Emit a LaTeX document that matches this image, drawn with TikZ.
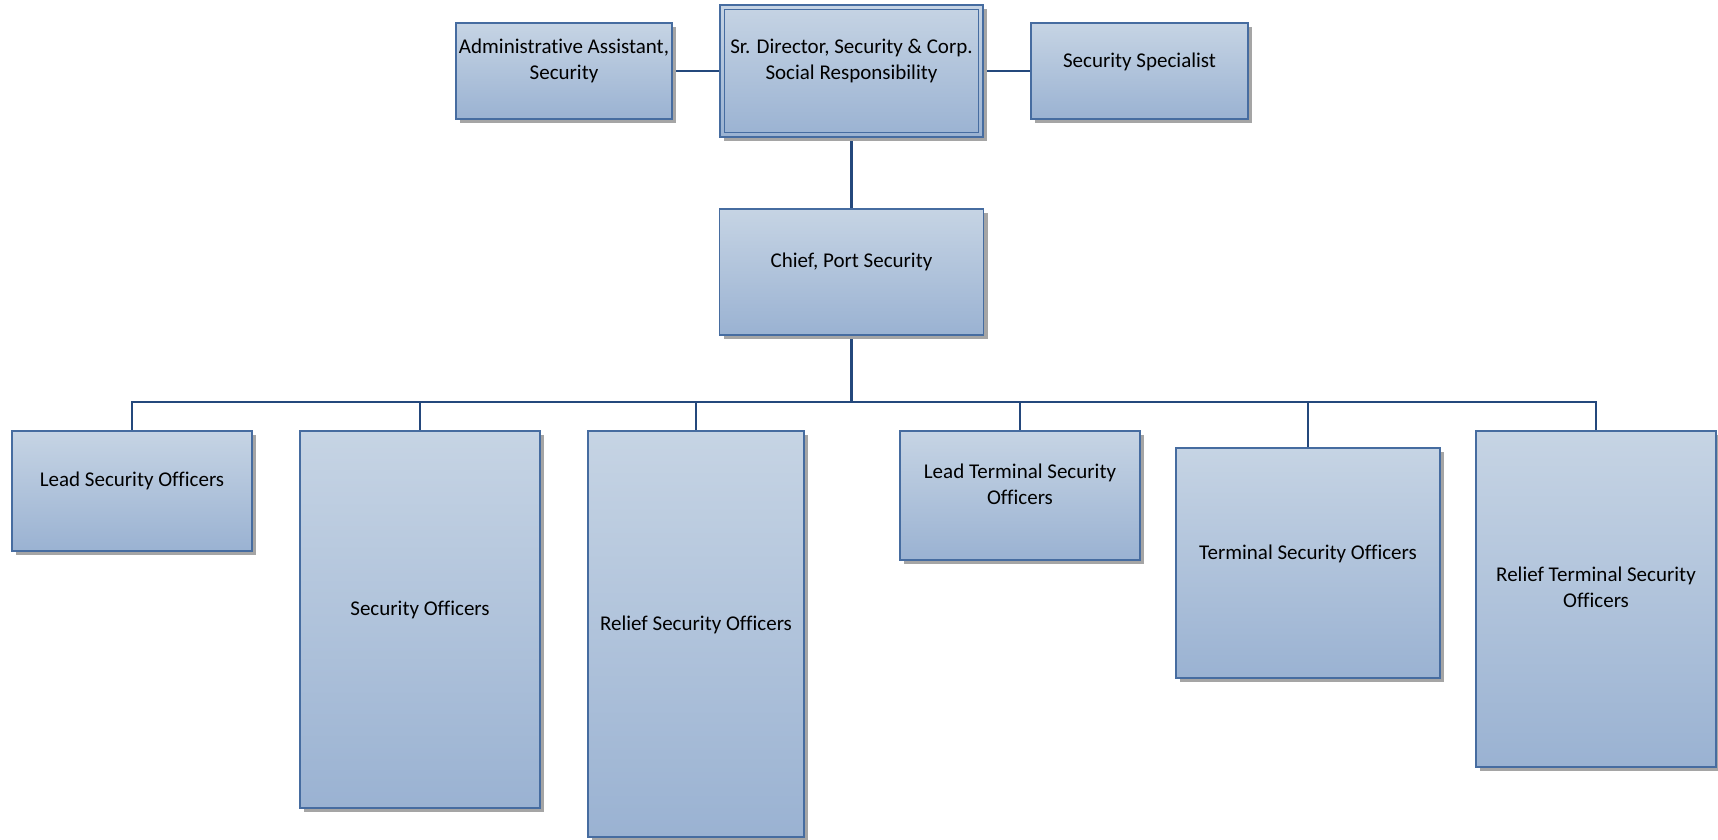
\documentclass[tikz,border=0pt]{standalone}
\usepackage{fontspec}
\setmainfont{Carlito}[Ligatures=CommonOff]
\usetikzlibrary{shadows}
\definecolor{boxtop}{RGB}{198,212,228}
\definecolor{boxbot}{RGB}{154,178,210}
\definecolor{boxline}{RGB}{70,108,160}
\definecolor{conline}{RGB}{36,72,124}
\definecolor{shadowgray}{RGB}{165,165,165}
\pgfdeclarelayer{bg}
\pgfsetlayers{bg,main}
\begin{document}
\begin{tikzpicture}[x=1pt,y=-1pt,
  orgbox/.style={rectangle, draw=boxline, line width=1.6pt, top color=boxtop, bottom color=boxbot, inner sep=0pt,
    drop shadow={shadow xshift=4pt, shadow yshift=-4pt, fill=shadowgray, opacity=1}},
  lbl/.style={font=\fontsize{21}{26}\selectfont, align=center, inner sep=0pt, anchor=north, text=black,
    execute at begin node=\strut},
  conn/.style={draw=conline, line width=2.8pt}]
\useasboundingbox (0,0) rectangle (1718,839);

% boxes
\node[orgbox, minimum width=216pt, minimum height=96pt] (admin) at (564,71) {};
\node[orgbox, minimum width=263pt, minimum height=132pt] (dir) at (851.5,71) {};
\node[orgbox, minimum width=217pt, minimum height=96pt] (spec) at (1139.5,71) {};
\node[orgbox, minimum width=264pt, minimum height=126pt] (chief) at (851.5,272) {};
\node[orgbox, minimum width=240pt, minimum height=120pt] (lso) at (132,491) {};
\node[orgbox, minimum width=240pt, minimum height=377pt] (so) at (420,619.5) {};
\node[orgbox, minimum width=216pt, minimum height=406pt] (rso) at (696,634) {};
\node[orgbox, minimum width=240pt, minimum height=129pt] (ltso) at (1020,495.5) {};
\node[orgbox, minimum width=264pt, minimum height=230pt] (tso) at (1308,563) {};
\node[orgbox, minimum width=240pt, minimum height=336pt] (rtso) at (1596,599) {};

% inner border of the director box
\draw[boxline, line width=1pt] ([shift={(5pt,-5pt)}]dir.north west) rectangle ([shift={(-5pt,5pt)}]dir.south east);

% labels
\node[lbl] (admin-t) at ([yshift=32pt]admin.center) {Administrative Assistant,\\Security};
\node[lbl] (dir-t) at ([yshift=32pt]dir.center) {Sr. Director, Security \& Corp.\\Social Responsibility};
\node[lbl] (spec-t) at ([yshift=22pt]spec.center) {Security Specialist};
\node[lbl] (chief-t) at ([yshift=22.5pt]chief.center) {Chief, Port Security};
\node[lbl] (lso-t) at ([yshift=22.5pt]lso.center) {Lead Security Officers};
\node[lbl] (so-t) at ([yshift=22pt]so.center) {Security Officers};
\node[lbl] (rso-t) at ([yshift=22pt]rso.center) {Relief Security Officers};
\node[lbl] (ltso-t) at ([yshift=32pt]ltso.center) {Lead Terminal Security\\Officers};
\node[lbl] (tso-t) at ([yshift=22pt]tso.center) {Terminal Security Officers};
\node[lbl] (rtso-t) at ([yshift=32pt]rtso.center) {Relief Terminal Security\\Officers};

% connectors
\coordinate (bus) at (851.5,402);
\begin{pgfonlayer}{bg}
\draw[conn] (admin.east) -- (dir.west);
\draw[conn] (dir.east) -- (spec.west);
\draw[conn] (dir.south) -- (chief.north);
\draw[conn] (chief.south) -- (bus);
\draw[conn] (lso.north) |- (bus) -| (rtso.north);
\draw[conn] (so.north) -- (so.north |- bus);
\draw[conn] (rso.north) -- (rso.north |- bus);
\draw[conn] (ltso.north) -- (ltso.north |- bus);
\draw[conn] (tso.north) -- (tso.north |- bus);
\end{pgfonlayer}
\end{tikzpicture}
\end{document}
